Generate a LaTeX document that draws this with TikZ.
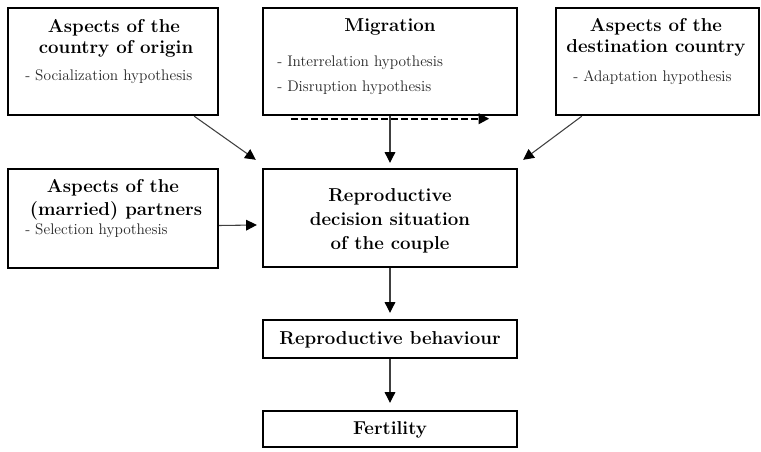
\documentclass[tikz,border=0pt]{standalone}
\usetikzlibrary{arrows.meta,calc}
\begin{document}
\begin{tikzpicture}[x=0.75pt,y=-0.75pt,
  box/.style={draw, line width=1.8pt, inner sep=0pt},
  ttl/.style={font=\fontsize{14}{16}\selectfont\bfseries, anchor=base, inner sep=0pt},
  sub/.style={font=\fontsize{11.5}{13}\selectfont, text=black!85, anchor=base west, inner sep=0pt},
  tip/.style={-{Triangle[length=8pt,width=8pt,color=black]}},
  conn/.style={draw=black!75, line width=0.8pt, tip},
]
\useasboundingbox (0,0) rectangle (761,452);

% boxes
\node[box, minimum width=210*0.75pt, minimum height=107*0.75pt] (b1) at (113,61.5) {};
\node[box, minimum width=254*0.75pt, minimum height=107*0.75pt] (b2) at (390,61.5) {};
\node[box, minimum width=203*0.75pt, minimum height=107*0.75pt] (b3) at (657.5,61.5) {};
\node[box, minimum width=210*0.75pt, minimum height=99*0.75pt] (b4) at (113,218.5) {};
\node[box, minimum width=254*0.75pt, minimum height=98*0.75pt] (b5) at (390,218) {};
\node[box, minimum width=254*0.75pt, minimum height=38*0.75pt] (b6) at (390,339) {};
\node[box, minimum width=254*0.75pt, minimum height=36*0.75pt] (b7) at (390,429) {};

% texts
\node[ttl] (t1a) at (114,33) {Aspects of the};
\node[ttl] (t1b) at (116,54) {country of origin};
\node[sub] (s1) at (25,81) {- Socialization hypothesis};

\node[ttl] (t2a) at (390,32) {Migration};
\node[sub] (s2a) at (277,67) {- Interrelation hypothesis};
\node[sub] (s2b) at (277,92) {- Disruption hypothesis};

\node[ttl] (t3a) at (656,32) {Aspects of the};
\node[ttl] (t3b) at (656,53) {destination country};
\node[sub] (s3) at (573,82) {- Adaptation hypothesis};

\node[ttl] (t4a) at (113,193) {Aspects of the};
\node[ttl] (t4b) at (116,216) {(married) partners};
\node[sub] (s4) at (25,235) {- Selection hypothesis};

\node[ttl] (t5a) at (390,202) {Reproductive};
\node[ttl] (t5b) at (390,226) {decision situation};
\node[ttl] (t5c) at (390,250) {of the couple};

\node[ttl] (t6) at (390,345) {Reproductive behaviour};
\node[ttl] (t7) at (390,435) {Fertility};

% connectors
\draw[conn] ($(b1.south east)+(-25,0)$) -- ($(b5.north west)+(-6,-8)$);
\draw[conn] ($(b3.south west)+(27,0)$) -- ($(b5.north east)+(5,-8)$);
\draw[conn] (b2.south) -- ($(b5.north)+(0,-5)$);
\draw[conn] ($(b4.east)+(0,7)$) -- ($(b5.west)+(-5,7)$);
\draw[conn] (b5.south) -- ($(b6.north)+(0,-6)$);
\draw[conn] (b6.south) -- ($(b7.north)+(0,-7)$);
\draw[line width=1.6pt, dash pattern=on 5.5pt off 2pt, tip]
  ($(b2.south west)+(29,2.5)$) -- ($(b2.south east)+(-29,2.5)$);
\end{tikzpicture}
\end{document}
